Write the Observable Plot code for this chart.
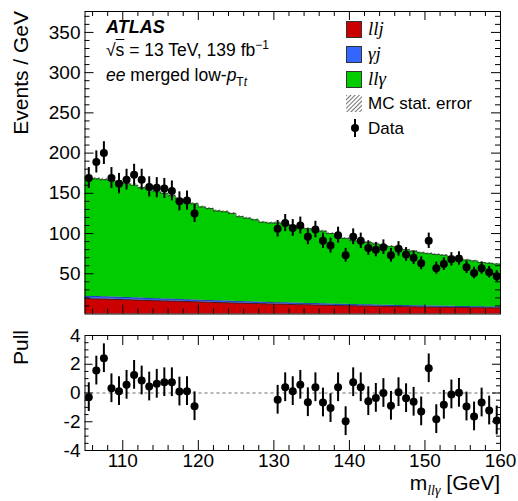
<!DOCTYPE html>
<html><head><meta charset="utf-8">
<script src="https://cdn.jsdelivr.net/npm/d3@7"></script>
<script src="https://cdn.jsdelivr.net/npm/@observablehq/plot@0.6"></script>
<style>
body{margin:0;background:#fff;}
#wrap{position:relative;width:518px;height:501px;font-family:"Liberation Sans",Arial,Helvetica,sans-serif;color:#000;overflow:hidden;}
.abs{position:absolute;white-space:nowrap;line-height:1;}
.rot{transform-origin:left top;transform:rotate(-90deg);text-align:right;width:200px;}
.ser{font-family:"Liberation Serif","Times New Roman",serif;font-style:italic;}
.box{position:absolute;width:16px;height:17px;box-sizing:border-box;border:1px solid #333;}
#top,#pull{position:absolute;left:0;}
</style></head><body><div id="wrap"></div>
<script>
// ---- data ----
const binLow = d3.range(105, 160); // 1 GeV bins, 105..160
const llj = [19.0,18.8,18.6,18.3,18.1,17.8,17.5,17.2,16.9,16.6,16.3,16.0,15.8,15.5,15.2,14.9,14.6,14.3,14.1,13.8,13.5,13.3,13.0,12.8,12.5,12.3,12.1,11.8,11.6,11.4,11.2,11.0,10.8,10.6,10.4,10.2,10.0,9.9,9.7,9.5,9.4,9.2,9.1,8.9,8.8,8.6,8.5,8.4,8.3,8.1,8.0,7.9,7.8,7.7,7.6];
const gammaJ = [2.9,2.9,2.8,2.8,2.7,2.7,2.6,2.6,2.5,2.5,2.4,2.4,2.3,2.3,2.2,2.2,2.2,2.1,2.1,2.0,2.0,2.0,1.9,1.9,1.9,1.8,1.8,1.8,1.7,1.7,1.7,1.6,1.6,1.6,1.6,1.5,1.5,1.5,1.5,1.4,1.4,1.4,1.4,1.3,1.3,1.3,1.3,1.3,1.2,1.2,1.2,1.2,1.2,1.1,1.1];
const llGamma = [148.1,146.3,145.6,144.9,143.2,141.5,139.9,137.2,135.6,132.9,131.3,128.6,124.9,121.2,119.6,115.9,114.2,111.6,110.8,109.2,105.5,103.7,102.1,99.3,98.6,98.9,98.1,96.4,94.7,92.9,91.1,90.4,87.6,83.8,82.0,79.3,78.5,77.6,75.8,74.1,73.2,71.4,69.5,67.8,65.9,65.1,64.2,63.3,61.5,59.7,57.8,56.9,55.0,54.2,53.3];
const mcStatErr = [1.6,1.6,1.6,1.5,1.5,1.5,1.5,1.5,1.5,1.4,1.4,1.4,1.4,1.4,1.4,1.3,1.3,1.3,1.3,1.3,1.3,1.3,1.2,1.2,1.2,1.2,1.2,1.2,1.2,1.2,1.2,1.1,1.1,1.1,1.1,1.1,1.1,1.1,1.1,1.0,1.0,1.0,1.0,1.0,1.0,1.0,1.0,1.0,1.0,1.0,0.9,0.9,0.9,0.9,0.9];
const dataMass = [105.5,106.5,107.5,108.5,109.5,110.5,111.5,112.5,113.5,114.5,115.5,116.5,117.5,118.5,119.5,130.5,131.5,132.5,133.5,134.5,135.5,136.5,137.5,138.5,139.5,140.5,141.5,142.5,143.5,144.5,145.5,146.5,147.5,148.5,149.5,150.5,151.5,152.5,153.5,154.5,155.5,156.5,157.5,158.5,159.5];
const dataEvents = [169,189,200,169,162,167,173,167,158,157,156,153,140,141,125,106,113,107,110,96,105,91,85,98,73,96,91,82,80,83,73,81,74,70,63,91,57,62,68,69,58,51,57,52,47];
const pullValues = [-0.29,1.56,2.42,0.33,0.13,0.57,1.26,0.87,0.45,0.64,0.75,0.75,0.10,0.13,-0.92,-0.47,0.40,0.13,0.57,-0.64,0.40,-0.66,-1.05,0.40,-1.96,0.75,0.40,-0.57,-0.34,0.00,-0.89,0.06,-0.36,-0.61,-1.28,1.72,-1.82,-0.82,-0.10,0.01,-0.94,-1.63,-0.66,-1.22,-1.91];
const yTicksTop = [50,100,150,200,250,300,350];
const yTicksPull = [-4,-2,0,2,4];
const xTicks = [110,120,130,140,150,160];

// ---- build tables ----
const steps = binLow.map((x,i)=>({x, a: llj[i], b: llj[i]+gammaJ[i], c: llj[i]+gammaJ[i]+llGamma[i], e: mcStatErr[i]}));
steps.push({...steps[steps.length-1], x: 160});
const dataPts = dataMass.map((m,i)=>({m, n: dataEvents[i], p: pullValues[i]}));

const W = 518, L = 84.5, R = 18;
const innerW = W - L - R;
const FONT = '"Liberation Sans",Arial,Helvetica,sans-serif';

function frameTicks(xMaj, xMin, yMaj, yMin, innerH, xMajL, xMinL, yMajL, yMinL) {
  const o = {stroke: "black", strokeWidth: 1};
  return [
    Plot.ruleX(xMin, {...o, insetTop: innerH - xMinL}),
    Plot.ruleX(xMin, {...o, insetBottom: innerH - xMinL}),
    Plot.ruleX(xMaj, {...o, insetTop: innerH - xMajL}),
    Plot.ruleX(xMaj, {...o, insetBottom: innerH - xMajL}),
    Plot.ruleY(yMin, {...o, insetRight: innerW - yMinL}),
    Plot.ruleY(yMin, {...o, insetLeft: innerW - yMinL}),
    Plot.ruleY(yMaj, {...o, insetRight: innerW - yMajL}),
    Plot.ruleY(yMaj, {...o, insetLeft: innerW - yMajL})
  ];
}

const xMajor = [110,120,130,140,150];
const xMinor = d3.range(106, 160, 2).filter(v => v % 10 !== 0);

// ---- top panel ----
const topH = 320, topMT = 11, topMB = 6.5;
const innerHTop = topH - topMT - topMB;
const topPlot = Plot.plot({
  width: W, height: topH, marginLeft: L, marginRight: R, marginTop: topMT, marginBottom: topMB,
  x: {domain: [105, 160], axis: null},
  y: {domain: [0, 376]},
  style: {fontFamily: FONT, fontSize: "19px", color: "black", background: "transparent", overflow: "visible"},
  marks: [
    Plot.areaY(steps, {x: "x", y1: 0, y2: "a", curve: "step-after", fill: "#cc0000"}),
    Plot.areaY(steps, {x: "x", y1: "a", y2: "b", curve: "step-after", fill: "#3366ff"}),
    Plot.areaY(steps, {x: "x", y1: "b", y2: "c", curve: "step-after", fill: "#00cc00"}),
    Plot.lineY(steps, {x: "x", y: "a", curve: "step-after", stroke: "#222", strokeWidth: 0.8}),
    Plot.lineY(steps, {x: "x", y: "b", curve: "step-after", stroke: "#1a2a80", strokeWidth: 0.6}),
    Plot.areaY(steps, {x: "x", y1: d => d.c - d.e, y2: d => d.c + d.e, curve: "step-after", fill: "url(#hatchTop)"}),
    Plot.lineY(steps, {x: "x", y: "c", curve: "step-after", stroke: "#333", strokeWidth: 0.7}),
    ...frameTicks(xMajor, xMinor, [50,100,150,200,250,300,350], d3.range(10, 376, 10).filter(v => v % 50 !== 0), innerHTop, 9, 5, 9, 5),
    Plot.ruleX(dataPts, {x: "m", y1: d => d.n - Math.sqrt(d.n), y2: d => d.n + Math.sqrt(d.n), stroke: "black", strokeWidth: 2}),
    Plot.dot(dataPts, {x: "m", y: "n", r: 4, fill: "black"}),
    Plot.axisY(yTicksTop, {tickSize: 0, tickPadding: 4.5, label: null, fontSize: 19}),
    Plot.frame({stroke: "black"})
  ]
});
topPlot.id = "top";
topPlot.style.top = "0px";
const ns = "http://www.w3.org/2000/svg";
const defs = document.createElementNS(ns, "defs");
defs.innerHTML = '<pattern id="hatchTop" patternUnits="userSpaceOnUse" width="3" height="3" patternTransform="rotate(45)"><line x1="0" y1="0" x2="0" y2="3" stroke="#111" stroke-width="1.2"/></pattern>';
topPlot.insertBefore(defs, topPlot.firstChild);

// ---- pull panel ----
const pullH = 181, pullMT = 15, pullMB = 51;
const innerHPull = pullH - pullMT - pullMB;
const pullPlot = Plot.plot({
  width: W, height: pullH, marginLeft: L, marginRight: R, marginTop: pullMT, marginBottom: pullMB,
  x: {domain: [105, 160]},
  y: {domain: [-4, 4]},
  style: {fontFamily: FONT, fontSize: "19px", color: "black", background: "transparent", overflow: "visible"},
  marks: [
    Plot.ruleY([0], {stroke: "#444", strokeWidth: 0.8, strokeDasharray: "3,3"}),
    ...frameTicks(xMajor, xMinor, [-2,0,2], d3.range(-3.5, 4, 0.5).filter(v => v % 2 !== 0), innerHPull, 10, 5, 8, 4),
    Plot.ruleX(dataPts, {x: "m", y1: d => d.p - 1, y2: d => d.p + 1, stroke: "black", strokeWidth: 2}),
    Plot.dot(dataPts, {x: "m", y: "p", r: 4, fill: "black"}),
    Plot.axisY(yTicksPull, {tickSize: 0, tickPadding: 4.5, label: null, fontSize: 19, tickFormat: d => d < 0 ? "-" + (-d) : String(d)}),
    Plot.axisX(xTicks, {tickSize: 0, tickPadding: 3, label: null, fontSize: 19, tickFormat: d => String(d)}),
    Plot.frame({stroke: "black"})
  ]
});
pullPlot.id = "pull";
pullPlot.style.top = "320px";

const wrap = document.getElementById("wrap");
wrap.appendChild(topPlot);
wrap.appendChild(pullPlot);

// ---- text overlays ----
wrap.insertAdjacentHTML("beforeend", `
<div class="abs rot" style="left:10px;top:211px;font-size:21px;">Events / GeV</div>
<div class="abs rot" style="left:10px;top:530px;font-size:21px;">Pull</div>
<div class="abs" style="left:106px;top:17.5px;font-size:18px;font-weight:bold;font-style:italic;">ATLAS</div>
<div class="abs" style="left:106px;top:42px;font-size:17.5px;">√<span style="text-decoration:overline;">s</span> = 13 TeV, 139 fb<span style="font-size:12px;position:relative;top:-7px;">−1</span></div>
<div class="abs" style="left:106px;top:67px;font-size:17.5px;"><i>ee</i> merged low-<i>p</i><span style="font-size:12px;position:relative;top:5px;">T<i>t</i></span></div>
<div class="box" style="left:346px;top:20.5px;background:#cc0000;"></div>
<div class="box" style="left:346px;top:45.5px;background:#3366ff;"></div>
<div class="box" style="left:346px;top:70.5px;background:#00cc00;"></div>
<svg class="abs" style="left:346px;top:95px;" width="16" height="17"><defs><pattern id="hatchLeg" patternUnits="userSpaceOnUse" width="3" height="3" patternTransform="rotate(45)"><line x1="0" y1="0" x2="0" y2="3" stroke="#111" stroke-width="1.2"/></pattern></defs><rect width="16" height="17" fill="url(#hatchLeg)"/></svg>
<svg class="abs" style="left:346px;top:118px;" width="18" height="20"><line x1="9" y1="1" x2="9" y2="19" stroke="black" stroke-width="2"/><circle cx="9" cy="10" r="4" fill="black"/></svg>
<div class="abs ser" style="left:368px;top:19px;font-size:19px;">llj</div>
<div class="abs ser" style="left:368px;top:44px;font-size:19px;">γj</div>
<div class="abs ser" style="left:368px;top:69px;font-size:19px;">llγ</div>
<div class="abs" style="left:368px;top:94.5px;font-size:17px;">MC stat. error</div>
<div class="abs" style="left:368px;top:119.5px;font-size:17px;">Data</div>
<div class="abs" style="right:18px;top:472px;font-size:21px;">m<span class="ser" style="font-size:14px;position:relative;top:5px;">llγ</span> [GeV]</div>
`);
</script></body></html>
